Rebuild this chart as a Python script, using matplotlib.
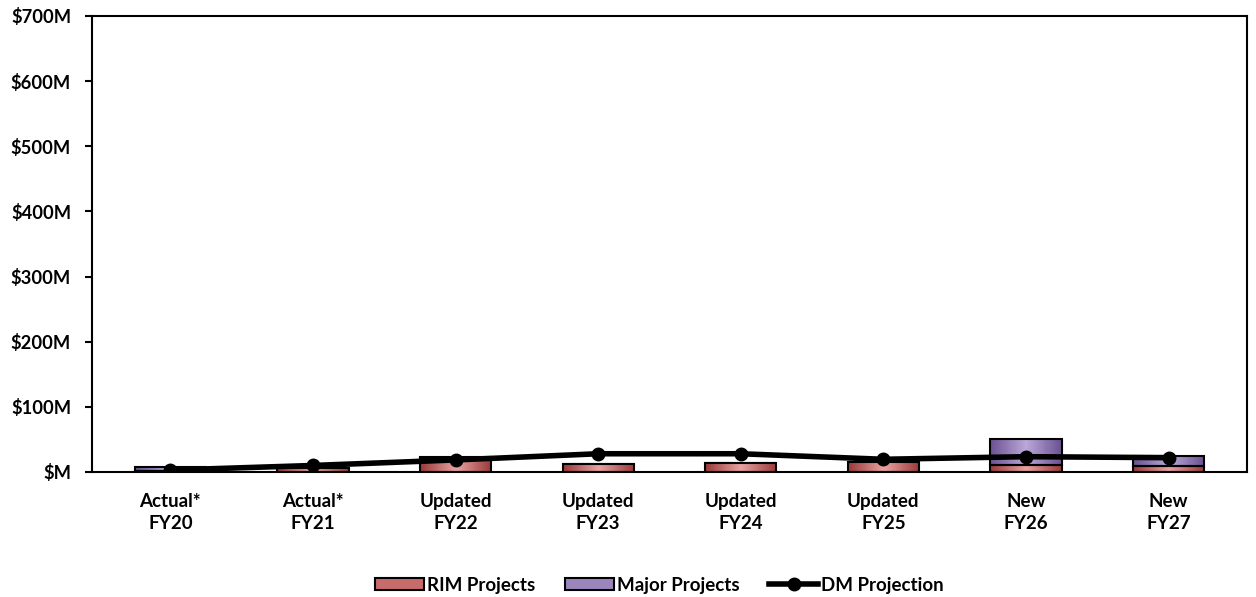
import numpy as np
import matplotlib.pyplot as plt
from matplotlib.colors import LinearSegmentedColormap
from matplotlib.lines import Line2D
from matplotlib.patches import Patch
from matplotlib.ticker import FuncFormatter

plt.rcParams['font.family'] = ['Lato', 'DejaVu Sans']

categories = ["Actual*\nFY20", "Actual*\nFY21", "Updated\nFY22", "Updated\nFY23",
              "Updated\nFY24", "Updated\nFY25", "New\nFY26", "New\nFY27"]
rim = [2, 6, 21, 12.5, 14, 15, 11, 9]
major = [6, 0, 1.5, 0, 0, 0, 39, 16]
dm = [3, 10, 18.5, 28, 28, 19.5, 23.5, 22]

x = np.arange(len(categories))
width = 0.5

red_cmap = LinearSegmentedColormap.from_list("red", ["#9b3a3a", "#e9a3a3", "#9b3a3a"])
purple_cmap = LinearSegmentedColormap.from_list("purple", ["#6b5192", "#bba9da", "#6b5192"])

fig = plt.figure(figsize=(12.56, 5.97), dpi=100)
ax = fig.add_axes([0.0732, 0.2094, 0.9196, 0.7638])

grad = np.linspace(0, 1, 64).reshape(1, -1)


def gradient_bars(bars, cmap):
    for b in bars:
        if b.get_height() <= 0:
            continue
        x0, y0 = b.get_x(), b.get_y()
        im = ax.imshow(grad, cmap=cmap, aspect='auto', zorder=2,
                       extent=[x0, x0 + b.get_width(), y0, y0 + b.get_height()])
        im.set_clip_path(b)
        b.set_facecolor('none')
        b.set_zorder(3)


b1 = ax.bar(x, rim, width, edgecolor='black', linewidth=1.5)
gradient_bars(b1, red_cmap)
b2 = ax.bar(x, major, width, bottom=rim, edgecolor='black', linewidth=1.5)
gradient_bars(b2, purple_cmap)

ax.plot(x, dm, color='black', lw=4, marker='o', markersize=9, zorder=5)

ax.set_xlim(-0.55, len(categories) - 0.45)
ax.set_ylim(0, 700)
ax.set_yticks(np.arange(0, 701, 100))
ax.yaxis.set_major_formatter(FuncFormatter(lambda v, p: f"${int(v)}M" if v else "$M"))
ax.set_xticks(x)
ax.set_xticklabels(categories, fontweight='bold', fontsize=13.5, linespacing=1.4)
for lab in ax.get_yticklabels():
    lab.set_fontweight('bold')
    lab.set_fontsize(13.2)
ax.tick_params(axis='x', length=0, pad=15)
ax.tick_params(axis='y', length=5, width=1.5, direction='out', pad=10)
for s in ax.spines.values():
    s.set_linewidth(1.5)

handles = [Patch(facecolor='#c86b6b', edgecolor='black', linewidth=1.5, label='RIM Projects'),
           Patch(facecolor='#9a86bd', edgecolor='black', linewidth=1.5, label='Major Projects'),
           Line2D([0], [0], color='black', lw=4, marker='o', markersize=9, label='DM Projection')]
leg = fig.legend(handles=handles, loc='center', bbox_to_anchor=(0.525, 0.02), ncol=3,
                 frameon=False, prop={'weight': 'bold', 'size': 13.5},
                 handlelength=2.6, handleheight=0.6, handletextpad=0.15, columnspacing=1.6)

fig.savefig("out.png", dpi=100)
